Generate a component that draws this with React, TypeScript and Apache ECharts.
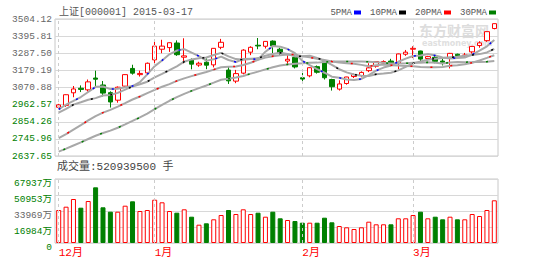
import React, { useEffect, useRef } from "react";
import * as echarts from "echarts";

const titleText = "上证[000001] 2015-03-17";
const volumeTitle = "成交量:520939500 手";

const dates = [
  "2014-12-15", "2014-12-16", "2014-12-17", "2014-12-18", "2014-12-19", "2014-12-22", "2014-12-23", "2014-12-24", "2014-12-25", "2014-12-26",
  "2014-12-29", "2014-12-30", "2014-12-31", "2015-01-05", "2015-01-06", "2015-01-07", "2015-01-08", "2015-01-09", "2015-01-12", "2015-01-13",
  "2015-01-14", "2015-01-15", "2015-01-16", "2015-01-19", "2015-01-20", "2015-01-21", "2015-01-22", "2015-01-23", "2015-01-26", "2015-01-27",
  "2015-01-28", "2015-01-29", "2015-01-30", "2015-02-02", "2015-02-03", "2015-02-04", "2015-02-05", "2015-02-06", "2015-02-09", "2015-02-10",
  "2015-02-11", "2015-02-12", "2015-02-13", "2015-02-16", "2015-02-17", "2015-02-25", "2015-02-26", "2015-02-27", "2015-03-02", "2015-03-03",
  "2015-03-04", "2015-03-05", "2015-03-06", "2015-03-09", "2015-03-10", "2015-03-11", "2015-03-12", "2015-03-13", "2015-03-16", "2015-03-17",
];

const opens = [
  2937, 2950, 3035, 3066, 3055, 3135, 3088, 3036, 2985, 3080,
  3200, 3158, 3170, 3258, 3330, 3341, 3372, 3276, 3258, 3223,
  3242, 3224, 3343, 3189, 3114, 3168, 3310, 3357, 3350, 3385,
  3330, 3250, 3275, 3137, 3150, 3212, 3245, 3125, 3060, 3098,
  3145, 3152, 3185, 3215, 3236, 3250, 3235, 3296, 3330, 3318,
  3267, 3275, 3250, 3272, 3296, 3285, 3312, 3355, 3388, 3470,
];
const closes = [
  2953, 3022, 3061, 3058, 3109, 3127, 3033, 2973, 3073, 3158,
  3168, 3166, 3235, 3351, 3351, 3374, 3293, 3285, 3229, 3235,
  3222, 3336, 3377, 3116, 3165, 3324, 3343, 3352, 3383, 3353,
  3306, 3262, 3210, 3128, 3205, 3174, 3137, 3076, 3095, 3142,
  3158, 3173, 3204, 3247, 3247, 3229, 3298, 3310, 3336, 3263,
  3280, 3248, 3241, 3302, 3286, 3291, 3349, 3373, 3449, 3503,
];
const lows = [
  2928, 2940, 3005, 3040, 3043, 3077, 3010, 2935, 2968, 3070,
  3158, 3145, 3160, 3220, 3303, 3312, 3285, 3235, 3194, 3211,
  3195, 3207, 3330, 3095, 3100, 3160, 3290, 3330, 3335, 3285,
  3290, 3230, 3200, 3100, 3140, 3165, 3125, 3050, 3050, 3090,
  3135, 3140, 3175, 3205, 3225, 3215, 3195, 3285, 3270, 3250,
  3255, 3235, 3220, 3200, 3275, 3275, 3300, 3340, 3380, 3465,
];
const highs = [
  2960, 3024, 3081, 3085, 3125, 3185, 3115, 3045, 3078, 3160,
  3225, 3185, 3240, 3385, 3394, 3376, 3390, 3404, 3268, 3245,
  3268, 3337, 3400, 3210, 3190, 3330, 3350, 3406, 3385, 3390,
  3340, 3290, 3290, 3170, 3207, 3220, 3255, 3130, 3120, 3143,
  3165, 3180, 3235, 3250, 3255, 3265, 3300, 3325, 3350, 3320,
  3285, 3285, 3265, 3305, 3300, 3305, 3352, 3384, 3450, 3504.12,
];

// volume in 万手
const volumes = [
  40260, 44290, 53680, 43070, 51240, 67937, 43550, 38190, 38190, 45510,
  50870, 39040, 40260, 52830, 49650, 39040, 36970, 41110, 32090, 22330,
  24030, 28910, 34160, 40260, 35380, 41110, 35380, 36970, 32090, 38190,
  30130, 28060, 26840, 24770, 24770, 24770, 30870, 25250, 20740, 19150,
  17080, 19150, 25990, 22810, 22810, 22810, 30130, 30130, 34160, 38190,
  30130, 32090, 28910, 32090, 28910, 28910, 35380, 32940, 40260, 52094,
];

const ma5 = [
  2922.4, 2955.6, 2979.8, 3006.4, 3040.6, 3075.4, 3077.6, 3060.0, 3063.0, 3072.8,
  3081.0, 3107.6, 3160.0, 3215.6, 3254.2, 3295.4, 3320.8, 3330.8, 3306.4, 3283.2,
  3252.8, 3261.4, 3279.8, 3257.2, 3243.2, 3263.6, 3265.0, 3260.0, 3313.4, 3351.0,
  3347.4, 3331.2, 3302.8, 3251.8, 3222.2, 3195.8, 3170.8, 3144.0, 3137.4, 3124.8,
  3121.6, 3128.8, 3154.4, 3184.8, 3205.8, 3220.0, 3245.0, 3266.2, 3284.0, 3287.2,
  3297.4, 3287.4, 3273.6, 3266.8, 3271.4, 3273.6, 3293.8, 3320.2, 3349.6, 3393.0,
];
const ma10 = [
  2901.0, 2926.9, 2955.1, 2971.0, 2988.2, 2998.9, 3016.6, 3019.9, 3034.7, 3056.7,
  3078.2, 3092.6, 3110.0, 3139.3, 3163.5, 3188.2, 3214.2, 3245.4, 3261.0, 3268.7,
  3274.1, 3291.1, 3305.3, 3281.8, 3263.2, 3258.2, 3263.2, 3269.9, 3285.3, 3297.1,
  3305.5, 3298.1, 3281.4, 3282.6, 3286.6, 3271.6, 3251.0, 3223.4, 3194.6, 3173.5,
  3158.7, 3149.8, 3149.2, 3161.1, 3165.3, 3170.8, 3186.9, 3210.3, 3234.4, 3246.5,
  3258.7, 3266.2, 3269.9, 3275.4, 3279.3, 3285.5, 3290.6, 3296.9, 3308.2, 3332.2,
];
const ma20 = [
  2727.6, 2755.9, 2786.4, 2816.7, 2847.8, 2877.6, 2900.9, 2919.3, 2941.5, 2965.2,
  2989.6, 3009.8, 3032.6, 3055.2, 3075.9, 3093.6, 3115.4, 3132.7, 3147.9, 3162.7,
  3176.2, 3191.9, 3207.7, 3210.6, 3213.4, 3223.2, 3238.7, 3257.7, 3273.2, 3282.9,
  3289.8, 3294.6, 3293.4, 3282.2, 3274.9, 3264.9, 3257.1, 3246.7, 3240.0, 3235.3,
  3232.1, 3224.0, 3215.3, 3221.9, 3226.0, 3221.2, 3219.0, 3216.9, 3214.5, 3210.0,
  3208.7, 3208.0, 3209.6, 3218.3, 3222.3, 3228.2, 3238.8, 3253.6, 3271.3, 3289.4,
];
const ma30 = [
  2636.8, 2656.9, 2678.3, 2699.4, 2722.5, 2744.3, 2763.1, 2779.0, 2798.6, 2821.3,
  2844.4, 2868.1, 2894.3, 2924.2, 2953.0, 2981.1, 3005.3, 3028.0, 3048.0, 3066.4,
  3084.4, 3103.5, 3123.5, 3130.7, 3138.3, 3148.4, 3164.7, 3178.4, 3193.7, 3207.5,
  3219.3, 3227.3, 3232.2, 3234.6, 3237.8, 3239.3, 3242.8, 3246.2, 3247.0, 3246.4,
  3246.1, 3246.3, 3245.3, 3241.8, 3238.4, 3233.5, 3233.7, 3234.5, 3238.1, 3239.0,
  3241.0, 3238.0, 3233.5, 3239.7, 3243.7, 3242.6, 3242.8, 3243.5, 3245.7, 3250.7,
];

const priceLabels = ["2637.65", "2745.96", "2854.26", "2962.57", "3070.88", "3179.19", "3287.50", "3395.81", "3504.12"];
const volumeLabels = ["0", "16984万", "33969万", "50953万", "67937万"];
const monthStarts = ["2014-12-15", "2015-01-05", "2015-02-02", "2015-03-02"];
const monthLabels = ["12月", "1月", "2月", "3月"];

const maNames = ["5PMA", "10PMA", "20PMA", "30PMA"];
const maColors = ["#0000ff", "#000000", "#ff0000", "#008000"];
const maSeries = [ma5, ma10, ma20, ma30];

const FONT = "'Liberation Mono', 'DejaVu Sans Mono', 'Noto Sans CJK SC', monospace";
const RED = "#ff0000";
const GREEN = "#008000";
const GRAY_TXT = "#666666";

const priceAxisMin = 2607.2;
const priceAxisMax = 3534.6;
const priceStep = (priceAxisMax - priceAxisMin) / 8;
const priceTicks = priceLabels.map((_, i) => priceAxisMin + i * priceStep);
const volAxisMax = 78080;
const volStep = volAxisMax / 4;

function buildOption() {
  const candleData = dates.map((_, i) => [opens[i], closes[i], lows[i], highs[i]]);
  const volData = volumes.map((v, i) => {
    const up = closes[i] >= opens[i];
    return {
      value: v,
      itemStyle: up
        ? { color: "#ffffff", borderColor: RED, borderWidth: 1 }
        : { color: GREEN, borderColor: GREEN, borderWidth: 1 },
    };
  });
  const markLine = {
    silent: true,
    symbol: ["none", "none"],
    label: { show: false },
    lineStyle: { color: "#cccccc", type: [3, 3], width: 1 },
    data: monthStarts.map((d) => ({ xAxis: d })),
    animation: false,
  };

  const series: any[] = [
    {
      type: "candlestick",
      name: "K",
      xAxisIndex: 0,
      yAxisIndex: 0,
      data: candleData,
      barWidth: 5,
      itemStyle: {
        color: "#ffffff",
        color0: GREEN,
        borderColor: RED,
        borderColor0: GREEN,
        borderWidth: 1,
      },
      markLine,
      z: 2,
    },
    {
      type: "bar",
      name: "VOL",
      xAxisIndex: 1,
      yAxisIndex: 1,
      data: volData,
      barWidth: 5,
      markLine,
    },
  ];
  maSeries.forEach((d, k) => {
    series.push({
      type: "line",
      name: maNames[k],
      xAxisIndex: 0,
      yAxisIndex: 0,
      data: d,
      symbol: "none",
      showSymbol: false,
      silent: true,
      lineStyle: { color: "#a8a8a8", width: 2 },
      itemStyle: { color: maColors[k] },
      z: 3,
    });
  });
  maSeries.forEach((d, k) => {
    series.push({
      type: "line",
      name: maNames[k] + " dots",
      xAxisIndex: 0,
      yAxisIndex: 0,
      data: d,
      symbol: "none",
      showSymbol: false,
      silent: true,
      lineStyle: { color: maColors[k], width: 1.5, type: [2, 18], dashOffset: k * 5 },
      itemStyle: { color: maColors[k] },
      z: 4,
    });
  });

  return {
    animation: false,
    backgroundColor: "#ffffff",
    title: [
      {
        text: titleText,
        left: 59,
        top: 7,
        padding: 0,
        textStyle: { fontSize: 10, fontWeight: "normal", color: "#555555", fontFamily: FONT },
      },
      {
        text: volumeTitle,
        left: 57,
        top: 161,
        padding: 0,
        textStyle: { fontSize: 11, fontWeight: "normal", color: "#444444", fontFamily: FONT },
      },
    ],
    legend: {
      data: maNames,
      right: 54,
      top: 8,
      padding: 0,
      align: "right",
      icon: "rect",
      itemWidth: 7,
      itemHeight: 4,
      itemGap: 9,
      selectedMode: false,
      itemStyle: { borderWidth: 0 },
      textStyle: { fontSize: 9, color: "#555555", fontFamily: FONT, padding: [0, -3, 0, 0] },
    },
    graphic: [
      {
        type: "text",
        left: 419,
        top: 23,
        z: 0,
        silent: true,
        style: { text: "东方财富网", fill: "#dddddd", font: "bold 14px 'Noto Sans CJK SC'", lineHeight: 14 },
      },
      {
        type: "text",
        left: 422,
        top: 39,
        z: 0,
        silent: true,
        style: { text: "eastmoney.com", fill: "#e0e0e0", font: "bold 8px 'DejaVu Sans'", lineHeight: 8 },
      },
    ],
    grid: [
      { left: 55, top: 19, width: 443, height: 137, show: true, borderColor: "#c8c8c8", borderWidth: 1, backgroundColor: "transparent" },
      { left: 55, top: 179, width: 443, height: 64, show: true, borderColor: "#c8c8c8", borderWidth: 1, backgroundColor: "transparent" },
    ],
    xAxis: [
      {
        type: "category",
        gridIndex: 0,
        data: dates,
        boundaryGap: true,
        axisLine: { show: false },
        axisTick: { show: false },
        axisLabel: { show: false },
        splitLine: { show: false },
      },
      {
        type: "category",
        gridIndex: 1,
        data: dates,
        boundaryGap: true,
        axisLine: { show: false },
        axisTick: { show: false },
        splitLine: { show: false },
        axisLabel: {
          show: true,
          interval: (_i: number, v: string) => monthStarts.indexOf(v) >= 0,
          formatter: (v: string) => monthLabels[monthStarts.indexOf(v)] || "",
          align: "left",
          margin: 4,
          color: RED,
          fontSize: 11,
          fontFamily: FONT,
        },
      },
    ],
    yAxis: [
      {
        type: "value",
        gridIndex: 0,
        min: priceAxisMin,
        max: priceAxisMax,
        axisLine: { show: false },
        axisTick: { show: false, customValues: priceTicks },
        splitLine: { show: true, lineStyle: { color: "#d8d8d8", width: 1 } },
        axisLabel: {
          customValues: priceTicks,
          margin: 3,
          fontSize: 9.5,
          fontFamily: FONT,
          formatter: (v: number) => priceLabels[Math.round((v - priceAxisMin) / priceStep)] || "",
          color: (v: number) => (Math.round((v - priceAxisMin) / priceStep) <= 3 ? GREEN : GRAY_TXT),
        },
      },
      {
        type: "value",
        gridIndex: 1,
        min: 0,
        max: volAxisMax,
        interval: volStep,
        axisLine: { show: false },
        axisTick: { show: false },
        splitLine: { show: true, lineStyle: { color: "#d8d8d8", width: 1 } },
        axisLabel: {
          margin: 3,
          fontSize: 9.5,
          fontFamily: FONT,
          verticalAlign: "top",
          formatter: (v: number) => volumeLabels[Math.round(v / volStep)] || "",
          color: (v: number) => (Math.round(v / volStep) === 2 ? GRAY_TXT : GREEN),
        },
      },
    ],
    series,
  };
}

export default function App() {
  const ref = useRef<HTMLDivElement>(null);
  useEffect(() => {
    if (!ref.current) return;
    const chart = echarts.init(ref.current, null, { renderer: "svg" });
    chart.setOption(buildOption() as any);
    return () => chart.dispose();
  }, []);
  return (
    <div
      ref={ref}
      style={{ position: "fixed", left: 0, top: 0, width: 550, height: 262, background: "#ffffff" }}
    />
  );
}
